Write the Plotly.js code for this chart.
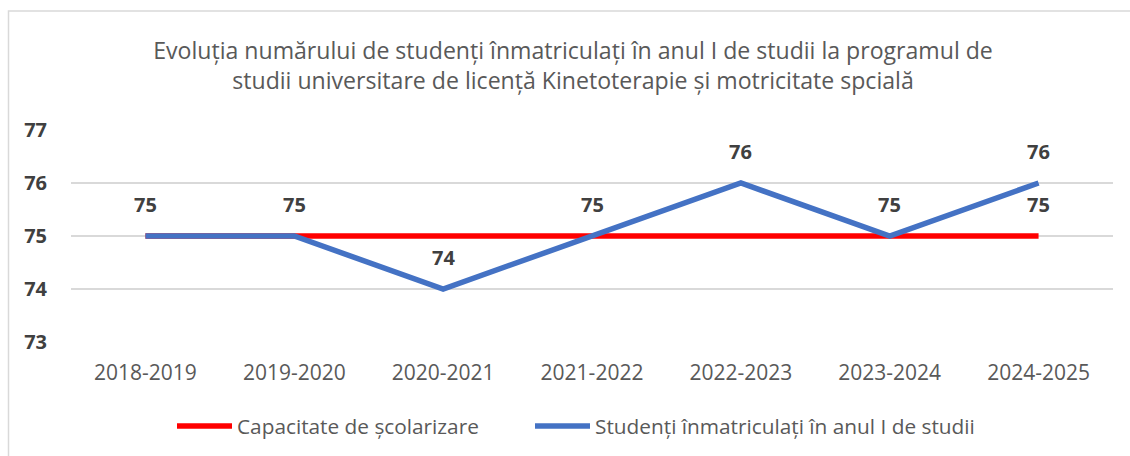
<!DOCTYPE html>
<html>
<head>
<meta charset="utf-8">
<script src="https://cdn.plot.ly/plotly-3.0.1.min.js"></script>
<style>html,body{margin:0;padding:0;background:#fff;}#chart{width:1130px;height:456px;}</style>
</head>
<body>
<div id="chart"></div>
<script>
const categories = ["2018-2019","2019-2020","2020-2021","2021-2022","2022-2023","2023-2024","2024-2025"];
const capacitate = [75,75,75,75,75,75,75];
const studenti = [75,75,74,75,76,75,76];
const seriesNames = ["Capacitate de școlarizare","Studenți înmatriculați în anul I de studii"];
const seriesColors = ["#ff0000","#4472c4"];
const titleText = "Evoluția numărului de studenți înmatriculați în anul I de studii la programul de<br>studii universitare de licență Kinetoterapie și motricitate spcială";
const yTicks = [73,74,75,76,77];

const FONT = "'Open Sans', sans-serif";
const PL = 71, PR = 1113, PT = 130, PB = 342;
const px2x = p => (p - PL) / (PR - PL);
const px2y = p => (PB - p) / (PB - PT);

const traces = [
  {x: categories, y: capacitate, name: seriesNames[0], type: "scatter", mode: "lines",
   line: {color: seriesColors[0], width: 5.5}},
  {x: categories, y: studenti, name: seriesNames[1], type: "scatter", mode: "lines",
   line: {color: seriesColors[1], width: 5.5}}
];

const labelFont = {family: FONT, size: 20, color: "#404040", weight: "bold"};
const annotations = [];
studenti.forEach((v, i) => {
  annotations.push({x: categories[i], y: v, xref: "x", yref: "y", text: String(v), showarrow: false,
    yshift: 32, font: labelFont});
});
// red series shows its data label only on the last point
const li = capacitate.length - 1;
annotations.push({x: categories[li], y: capacitate[li], xref: "x", yref: "y", text: String(capacitate[li]),
  showarrow: false, yshift: 32, font: labelFont});

// custom legend (Excel style: long line sample, text right after)
const legendY = 426;
const legendItems = [{x0: 177, x1: 232, tx: 235}, {x0: 535, x1: 590, tx: 593}];
const shapes = [
  {type: "rect", xref: "paper", yref: "paper", x0: px2x(8.5), x1: px2x(1140),
   y0: px2y(470), y1: px2y(11), line: {color: "#d9d9d9", width: 1.5}, fillcolor: "rgba(0,0,0,0)", layer: "below"}
];
legendItems.forEach((it, k) => {
  shapes.push({type: "line", xref: "paper", yref: "paper", x0: px2x(it.x0), x1: px2x(it.x1),
    y0: px2y(legendY), y1: px2y(legendY), line: {color: seriesColors[k], width: 5.5}});
  annotations.push({xref: "paper", yref: "paper", x: px2x(it.tx), y: px2y(legendY), xanchor: "left",
    yanchor: "middle", text: seriesNames[k], showarrow: false,
    font: {family: FONT, size: 20.8, color: "#595959"}});
});

const layout = {
  width: 1130, height: 456,
  paper_bgcolor: "#ffffff", plot_bgcolor: "#ffffff",
  margin: {l: PL, r: 1130 - PR, t: PT, b: 456 - PB},
  font: {family: FONT, color: "#595959"},
  title: {text: titleText, font: {family: FONT, size: 23.1, color: "#595959"},
    xref: "container", x: 573/1130, xanchor: "center", yref: "container", y: 1 - 59/456, yanchor: "middle"},
  xaxis: {type: "category", range: [-0.5, 6.5], showgrid: false, zeroline: false, showline: false,
    ticks: "", tickfont: {family: FONT, size: 21, color: "#595959"}, ticklabelstandoff: 16, fixedrange: true},
  yaxis: {range: [73, 77], tickvals: yTicks, showgrid: true, gridcolor: "#d9d9d9", gridwidth: 1.5,
    zeroline: false, showline: false, ticks: "", ticklabelstandoff: 23,
    tickfont: {family: FONT, size: 20, color: "#404040", weight: "bold"}, fixedrange: true},
  showlegend: false,
  annotations: annotations,
  shapes: shapes
};

Plotly.newPlot("chart", traces, layout, {displayModeBar: false, staticPlot: true});
</script>
</body>
</html>
